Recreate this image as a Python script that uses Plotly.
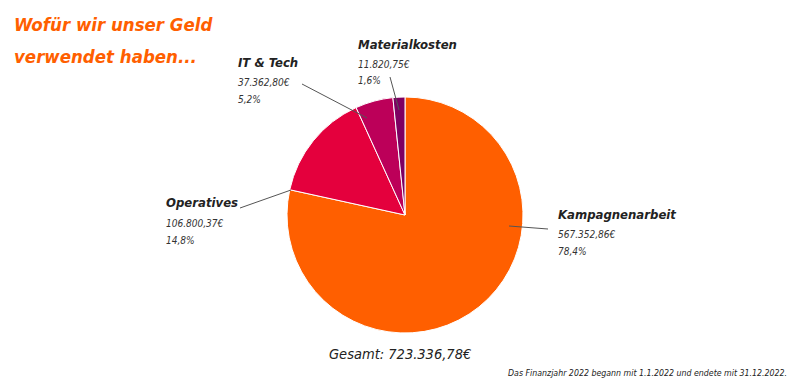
import plotly.graph_objects as go

categories = ["Kampagnenarbeit", "Operatives", "IT & Tech", "Materialkosten"]
amounts = [567352.86, 106800.37, 37362.80, 11820.75]
colors = ["#FF5F00", "#E4003D", "#BC0059", "#7E0062"]

title_lines = ["Wofür wir unser Geld", "verwendet haben..."]
footnote = "Das Finanzjahr 2022 begann mit 1.1.2022 und endete mit 31.12.2022."

total = sum(amounts)


def de_money(v):
    s = f"{v:,.2f}"
    return s.replace(",", "X").replace(".", ",").replace("X", ".") + "€"


def de_pct(v):
    return f"{v:.1f}".replace(".", ",") + "%"


W, H = 800, 385
FONT = "DejaVu Sans Condensed, Liberation Sans Narrow, Roboto, sans-serif"

# label layout (pixel positions): name anchor x, name y, line start, line end
label_layout = {
    "Kampagnenarbeit": dict(x=556, y=214, line=((509, 226), (548, 229))),
    "Operatives": dict(x=164, y=203, line=((291, 190), (240, 208))),
    "IT & Tech": dict(x=236, y=63, line=((367, 118), (302, 84))),
    "Materialkosten": dict(x=356, y=44, line=((399, 110), (390, 77))),
}


def px(x):
    return x / W


def py(y):
    return 1 - y / H


cx, cy, r = 405, 215, 118

fig = go.Figure(go.Pie(
    labels=categories,
    values=amounts,
    marker=dict(colors=colors, line=dict(color="white", width=1)),
    sort=False,
    direction="clockwise",
    rotation=0,
    textinfo="none",
    hoverinfo="label+value+percent",
    domain=dict(x=[px(cx - r), px(cx + r)], y=[py(cy + r), py(cy - r)]),
    showlegend=False,
))

annotations = []
shapes = []
for cat, amt in zip(categories, amounts):
    L = label_layout[cat]
    annotations.append(dict(
        x=px(L["x"]), y=py(L["y"]), xref="paper", yref="paper",
        xanchor="left", yanchor="middle", showarrow=False,
        text=f"<b><i>{cat}</i></b>",
        font=dict(family=FONT, size=13, color="#222222"),
    ))
    for k, line in enumerate([de_money(amt), de_pct(amt / total * 100)]):
        annotations.append(dict(
            x=px(L["x"]), y=py(L["y"] + 20 + 17 * k), xref="paper", yref="paper",
            xanchor="left", yanchor="middle", showarrow=False,
            text=f"<i>{line}</i>",
            font=dict(family=FONT, size=10, color="#333333"),
        ))
    (x0, y0), (x1, y1) = L["line"]
    shapes.append(dict(type="line", xref="paper", yref="paper",
                       x0=px(x0), y0=py(y0), x1=px(x1), y1=py(y1),
                       line=dict(color="#555555", width=1)))

for i, t in enumerate(title_lines):
    annotations.append(dict(
        x=px(12), y=py(24 + i * 33), xref="paper", yref="paper",
        xanchor="left", yanchor="middle", showarrow=False,
        text=f"<b><i>{t}</i></b>",
        font=dict(family=FONT, size=18.5, color="#FF5F00"),
    ))

annotations.append(dict(
    x=px(400), y=py(354), xref="paper", yref="paper",
    xanchor="center", yanchor="middle", showarrow=False,
    text=f"<i>Gesamt: {de_money(total)}</i>",
    font=dict(family=FONT, size=14.5, color="#222222"),
))
annotations.append(dict(
    x=px(789), y=py(373), xref="paper", yref="paper",
    xanchor="right", yanchor="middle", showarrow=False,
    text=f"<i>{footnote}</i>",
    font=dict(family=FONT, size=8.75, color="#222222"),
))

fig.update_layout(
    width=W, height=H,
    margin=dict(l=0, r=0, t=0, b=0),
    paper_bgcolor="white", plot_bgcolor="white",
    annotations=annotations, shapes=shapes,
)

fig.write_html("out.html", config={"displayModeBar": False},
               post_script="document.body.style.margin='0';")
